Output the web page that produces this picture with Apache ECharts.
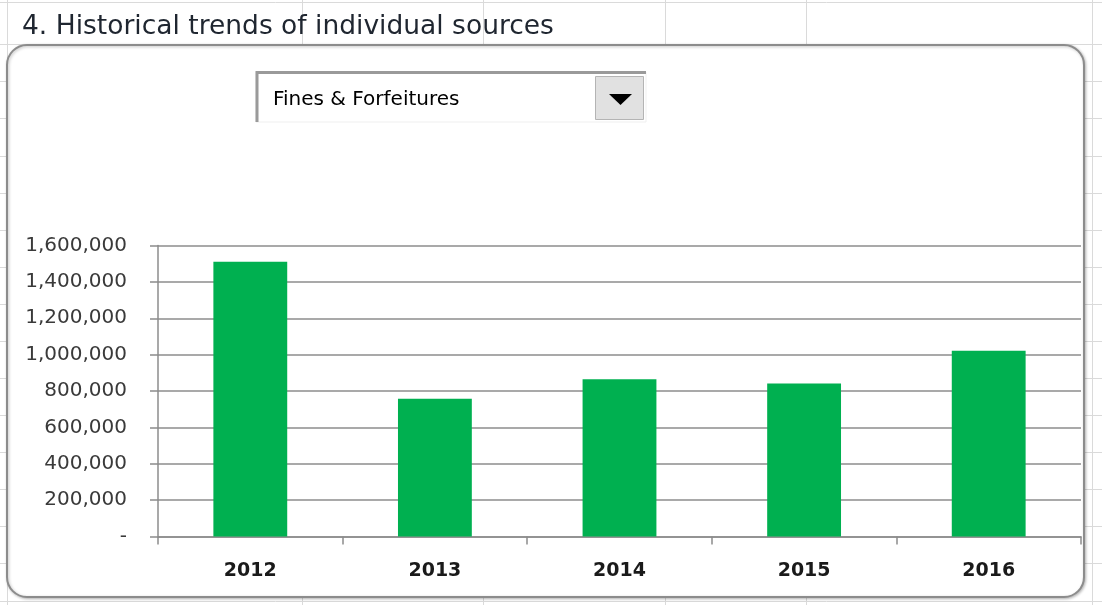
<!DOCTYPE html>
<html>
<head>
<meta charset="utf-8">
<script src="https://cdn.jsdelivr.net/npm/echarts@6/dist/echarts.min.js"></script>
<style>
html,body{margin:0;padding:0;background:#fff;}
#chart{width:1102px;height:605px;}
</style>
</head>
<body>
<div id="chart"></div>
<script>
const titleText = '4. Historical trends of individual sources';
const dropdownText = 'Fines & Forfeitures';
const categories = ['2012', '2013', '2014', '2015', '2016'];
const values = [1510000, 757000, 865000, 841000, 1021000];
const yMin = 0, yMax = 1600000, yInterval = 200000;

// spreadsheet background grid (decoration)
const sheetCols = [7, 302, 483, 665, 806, 1092];
const sheetRows = [2, 44, 81, 118, 156, 193, 230, 267, 304, 341, 378, 415, 452, 489, 526, 563, 601];

const gfx = [];
sheetCols.forEach(x => gfx.push({type:'line', z:-20, shape:{x1:x+0.5,y1:0,x2:x+0.5,y2:605}, style:{stroke:'#dadada', lineWidth:1}}));
sheetRows.forEach(y => gfx.push({type:'line', z:-20, shape:{x1:0,y1:y+0.5,x2:1102,y2:y+0.5}, style:{stroke:'#dadada', lineWidth:1}}));
gfx.push({type:'text', z:-5, left:22, top:14, style:{text:titleText, fill:'#1f2630', font:'26.5px "DejaVu Sans"'}});
// chart frame
gfx.push({type:'rect', z:-10, shape:{x:7, y:45, width:1077, height:552, r:20},
  style:{fill:'#ffffff', stroke:'#8c8c8c', lineWidth:2, shadowBlur:3, shadowOffsetX:1, shadowOffsetY:1, shadowColor:'rgba(0,0,0,0.25)'}});
// dropdown
gfx.push({type:'rect', z:-4, shape:{x:256, y:72, width:390, height:50}, style:{fill:'#ffffff', stroke:'#efefef', lineWidth:1}});
gfx.push({type:'polyline', z:-3, shape:{points:[[257,122],[257,72.5],[646,72.5]]}, style:{stroke:'#9a9a9a', lineWidth:3, fill:null}});
gfx.push({type:'rect', z:-3, shape:{x:595.5, y:76.5, width:48, height:43}, style:{fill:'#e1e1e1', stroke:'#b4b4b4', lineWidth:1}});
gfx.push({type:'polygon', z:-2, shape:{points:[[609,94],[632,94],[620.5,105]]}, style:{fill:'#000000'}});
gfx.push({type:'text', z:-2, left:273, top:90, style:{text:dropdownText, fill:'#000000', font:'20px "DejaVu Sans"'}});

const chart = echarts.init(document.getElementById('chart'), null, {renderer:'canvas'});
chart.setOption({
  animation: false,
  backgroundColor: '#ffffff',
  graphic: gfx,
  grid: {left:158, right:21, top:245.5, bottom:68.5, containLabel:false},
  xAxis: {
    type:'category',
    data: categories,
    axisLine:{show:true, lineStyle:{color:'#8c8c8c', width:1.5}},
    axisTick:{show:true, alignWithLabel:false, length:8, lineStyle:{color:'#8c8c8c', width:1.5}},
    axisLabel:{margin:25, color:'#1a1a1a', fontFamily:'DejaVu Sans', fontSize:19, fontWeight:'bold'},
    splitLine:{show:false}
  },
  yAxis: {
    type:'value',
    min:yMin, max:yMax, interval:yInterval,
    axisLine:{show:true, lineStyle:{color:'#8c8c8c', width:1.5}},
    axisTick:{show:true, length:8, lineStyle:{color:'#8c8c8c', width:1.5}},
    axisLabel:{margin:31, color:'#3a3a3a', fontFamily:'DejaVu Sans', fontSize:20,
      formatter: v => v === 0 ? '-' : v.toLocaleString('en-US')},
    splitLine:{show:true, lineStyle:{color:'#8c8c8c', width:1.5}}
  },
  series: [{
    type:'bar',
    data: values,
    barWidth:'40%',
    z:5,
    itemStyle:{color:'#00b050'}
  }]
});
</script>
</body>
</html>
